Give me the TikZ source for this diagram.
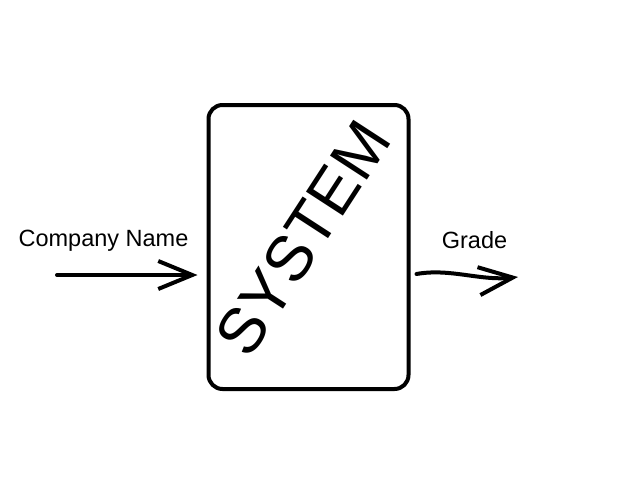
\documentclass[tikz,border=0pt]{standalone}
\usepackage{fontspec}
\setmainfont{Liberation Sans}
\usetikzlibrary{arrows.meta}
\begin{document}
\begin{tikzpicture}[x=1pt,y=-1pt,
  stroke/.style={line width=4pt,line cap=round,line join=round},
  sysbox/.style={stroke,draw,rounded corners=14pt,minimum width=200pt,minimum height=284pt,inner sep=0pt},
  label/.style={font=\fontsize{23.5pt}{27pt}\selectfont,inner sep=0pt},
  barb/.style={-{Straight Barb[length=34pt,width=28pt,line width=4pt]}}]
\useasboundingbox (0,0) rectangle (640,480);
\node[sysbox] (sys) at (308.5,247) {};
\node[rotate=57,font=\fontsize{64pt}{70pt}\selectfont,inner sep=0pt] (word) at (303,238) {SYSTEM};
\coordinate (inA) at (57,275);
\coordinate (outB) at (518,277);
\draw[stroke,barb,shorten >=9pt] (inA) -- (sys.west |- inA);
\draw[stroke,barb] (sys.east |- 0,274) ++(6,0) .. controls (450,268) and (480,281) .. (outB);
\node[label] (cn) at (103.5,241) {Company Name};
\node[label] (gr) at (474.5,240) {Grade};
\end{tikzpicture}
\end{document}
